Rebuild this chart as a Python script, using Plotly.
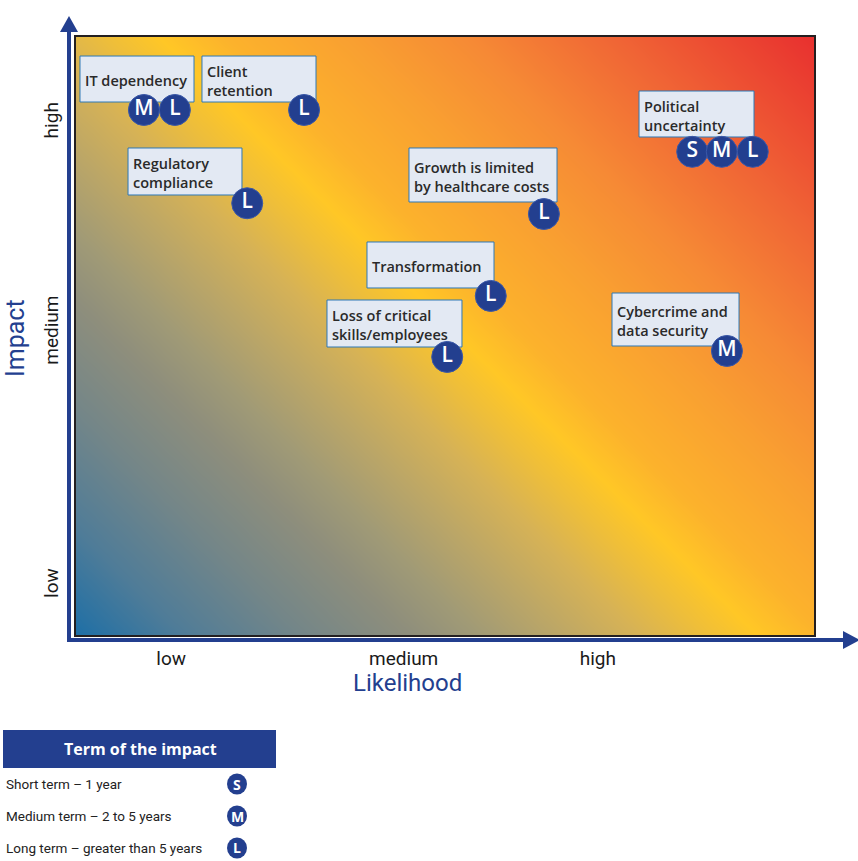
import numpy as np
import plotly.graph_objects as go

# ---------------- data ----------------
risk_names = [
    "IT dependency",
    "Client<br>retention",
    "Regulatory<br>compliance",
    "Political<br>uncertainty",
    "Growth is limited<br>by healthcare costs",
    "Transformation",
    "Loss of critical<br>skills/employees",
    "Cybercrime and<br>data security",
]
# label boxes (likelihood x0, x1, impact y0, y1)
label_x0 = [0.054, 1.707, 0.705, 7.629, 4.512, 3.943, 3.401, 7.263]
label_x1 = [1.599, 3.252, 2.249, 9.187, 6.518, 5.664, 5.230, 8.984]
label_y0 = [8.913, 8.913, 7.358, 8.328, 7.241, 5.803, 4.816, 4.833]
label_y1 = [9.682, 9.682, 8.144, 9.097, 8.144, 6.572, 5.602, 5.719]

# term markers (likelihood, impact)
term_letter = ["M", "L", "L", "L", "S", "M", "L", "L", "L", "L", "M"]
term_x = [0.92, 1.34, 3.09, 2.32, 8.35, 8.75, 9.17, 6.34, 5.62, 5.03, 8.82]
term_y = [8.78, 8.78, 8.78, 7.22, 8.08, 8.08, 8.08, 7.04, 5.67, 4.65, 4.75]

x_tick_vals = [1.29, 4.44, 7.07]
x_tick_text = ["low", "medium", "high"]
y_tick_vals = [0.82, 5.05, 8.56]
y_tick_text = ["low", "medium", "high"]

legend_title = "Term of the impact"
legend_rows = ["Short term – 1 year", "Medium term – 2 to 5 years", "Long term – greater than 5 years"]
legend_letters = ["S", "M", "L"]

# ---------------- layout helpers ----------------
W, H = 858, 861
PL, PR, PT, PB = 76, 814, 37, 635
def px(xp):
    return (xp - PL) / (PR - PL)
def py(yp):
    return (PB - yp) / (PB - PT)

NAVY = "#233F8F"
TXT = "#2a2a2a"
COND = "Roboto, sans-serif"
BODY = "Open Sans, Lato, sans-serif"

fig = go.Figure()

# gradient background (45 degree diagonal in screen pixels)
gx = np.linspace(0, 10, 90)
gy = np.linspace(0, 10, 90)
GX, GY = np.meshgrid(gx, gy)
wx, wy = PR - PL, PB - PT
gz = (wx * GX / 10 + wy * GY / 10) / (wx + wy)
colorscale = [
    [0.0, "#1E6FA6"],
    [0.08, "#4F7C98"],
    [0.17, "#748688"],
    [0.25, "#8E8E7C"],
    [0.30, "#A09A76"],
    [0.36, "#BBA667"],
    [0.42, "#D6B256"],
    [0.47, "#EEBE3A"],
    [0.51, "#FFC726"],
    [0.56, "#FCB22C"],
    [0.65, "#F9A031"],
    [0.74, "#F68A35"],
    [0.85, "#F06535"],
    [1.0, "#E8302F"],
]
fig.add_trace(go.Heatmap(x=gx, y=gy, z=gz, colorscale=colorscale, showscale=False,
                         zsmooth="best", hoverinfo="skip", zmin=0, zmax=1))

# label boxes
bx, by = [], []
for x0, x1, y0, y1 in zip(label_x0, label_x1, label_y0, label_y1):
    bx += [x0, x1, x1, x0, x0, None]
    by += [y0, y0, y1, y1, y0, None]
fig.add_trace(go.Scatter(x=bx, y=by, mode="lines", fill="toself", fillcolor="#E3E9F3",
                         line=dict(color="#2E78B5", width=1), hoverinfo="skip", showlegend=False))

# label text
pad = 5 / 73.8
fig.add_trace(go.Scatter(
    x=[x0 + pad for x0 in label_x0],
    y=[(a + b) / 2 - 0.06 for a, b in zip(label_y0, label_y1)],
    mode="text", text=risk_names, textposition="middle right",
    textfont=dict(family=BODY, size=14.5, color=TXT, weight=600), hoverinfo="skip", showlegend=False))

# term circles
fig.add_trace(go.Scatter(
    x=term_x, y=term_y, mode="markers+text", text=term_letter, textposition="middle center",
    marker=dict(size=31, color=NAVY, line=dict(color="#3A58A8", width=1)),
    textfont=dict(family=BODY, size=21, color="white", weight=600), hoverinfo="skip", showlegend=False))

fig.update_xaxes(range=[0, 10], showgrid=False, zeroline=False, showline=True, mirror=True,
                 linecolor="#231F20", linewidth=2, tickvals=x_tick_vals, ticktext=x_tick_text,
                 ticks="", ticklabelstandoff=5,
                 tickfont=dict(family=COND, size=19, color="#1a1a1a"), fixedrange=True)
fig.update_yaxes(range=[0, 10], showgrid=False, zeroline=False, showline=True, mirror=True,
                 linecolor="#231F20", linewidth=2, tickvals=y_tick_vals, ticktext=y_tick_text,
                 ticks="", tickangle=-90, ticklabelstandoff=8,
                 tickfont=dict(family=COND, size=19, color="#1a1a1a"), fixedrange=True)

shapes = []
# axis arrows
shapes.append(dict(type="line", xref="paper", yref="paper", x0=px(69), x1=px(69), y0=py(642), y1=py(30),
                   line=dict(color=NAVY, width=4)))
shapes.append(dict(type="path", xref="paper", yref="paper",
                   path=f"M {px(69)} {py(16)} L {px(60)} {py(32)} L {px(78)} {py(32)} Z",
                   fillcolor=NAVY, line=dict(width=0)))
shapes.append(dict(type="line", xref="paper", yref="paper", x0=px(67), x1=px(845), y0=py(640), y1=py(640),
                   line=dict(color=NAVY, width=4)))
shapes.append(dict(type="path", xref="paper", yref="paper",
                   path=f"M {px(860)} {py(640)} L {px(843)} {py(631)} L {px(843)} {py(649)} Z",
                   fillcolor=NAVY, line=dict(width=0)))
# legend header
shapes.append(dict(type="rect", xref="paper", yref="paper", x0=px(3), x1=px(276), y0=py(768), y1=py(730),
                   fillcolor=NAVY, line=dict(width=0)))
annotations = [
    dict(text="Impact", x=px(15), y=py(338), xref="paper", yref="paper", showarrow=False,
         xanchor="center", yanchor="middle",
         textangle=-90, font=dict(family=COND, size=25, color=NAVY)),
    dict(text="Likelihood", x=px(407), y=py(683), xref="paper", yref="paper", showarrow=False,
         xanchor="center", yanchor="middle",
         font=dict(family=COND, size=24, color=NAVY)),
    dict(text="<b>" + legend_title + "</b>", x=px(140), y=py(749), xref="paper", yref="paper",
         xanchor="center", yanchor="middle",
         showarrow=False, font=dict(family=BODY, size=16, color="white")),
]
for i, (row, let) in enumerate(zip(legend_rows, legend_letters)):
    yc = 784 + 32 * i
    annotations.append(dict(text=row, x=px(4), y=py(yc), xref="paper", yref="paper",
                            xanchor="left", yanchor="middle",
                            showarrow=False, font=dict(family=COND, size=13.5, color="#222")))
    shapes.append(dict(type="circle", xref="paper", yref="paper", x0=px(227), x1=px(247),
                       y0=py(yc + 10.5), y1=py(yc - 10.5), fillcolor=NAVY, line=dict(width=0)))
    annotations.append(dict(text="<b>" + let + "</b>", x=px(237), y=py(yc), xref="paper", yref="paper",
                            xanchor="center", yanchor="middle",
                            showarrow=False, font=dict(family=BODY, size=14, color="white")))

fig.update_layout(width=W, height=H, autosize=False,
                  margin=dict(l=PL, r=W - PR, t=PT, b=H - PB, pad=0),
                  paper_bgcolor="white", plot_bgcolor="white",
                  shapes=shapes, annotations=annotations, showlegend=False)

fig.write_html("out.html")
